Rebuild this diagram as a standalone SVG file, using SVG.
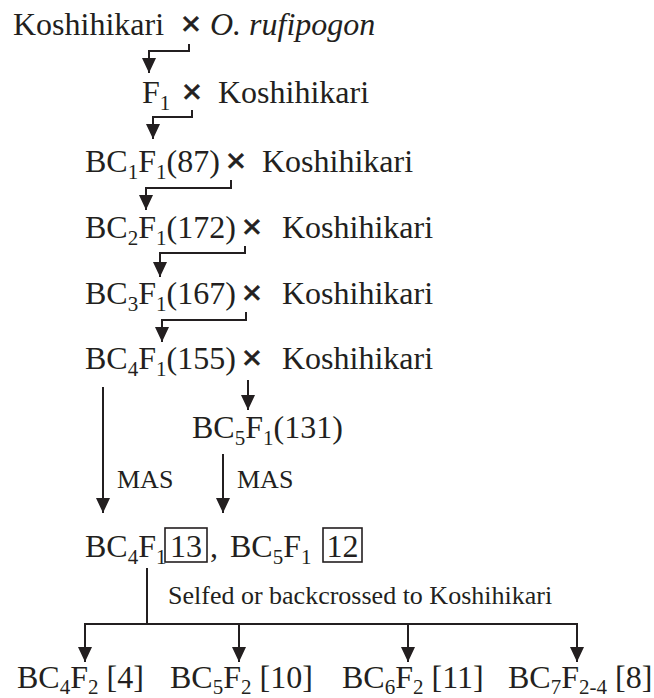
<svg xmlns="http://www.w3.org/2000/svg" width="654" height="698" viewBox="0 0 654 698">
  <style>
    .t { font-family: "Liberation Serif", "DejaVu Serif", "Noto Serif", serif; font-size: 32px; fill: #231f20; }
    .s { font-size: 21px; }
    .sm { font-family: "Liberation Serif", "DejaVu Serif", "Noto Serif", serif; font-size: 26px; fill: #231f20; }
    .x { font-family: "Liberation Sans", Arial, sans-serif; font-size: 34px; fill: #231f20; stroke: #231f20; stroke-width: 0.7; text-anchor: middle; }
    .ln { fill: none; stroke: #231f20; stroke-width: 2; }
    .arr { fill: none; stroke: #231f20; stroke-width: 2; marker-end: url(#head); }
    .box { fill: none; stroke: #231f20; stroke-width: 1.6; }
  </style>
  <defs>
    <marker id="head" markerUnits="userSpaceOnUse" markerWidth="16" markerHeight="15" refX="15" refY="7" orient="auto">
      <path d="M0,0 L15,7 L0,14 z" fill="#231f20"/>
    </marker>
  </defs>
  <rect width="654" height="698" fill="#ffffff"/>

  <!-- crossing generations -->
  <g id="cross0">
    <text class="t" x="13" y="35">Koshihikari</text>
    <text class="x" x="191" y="35">×</text>
    <text class="t" x="210" y="35" font-style="italic">O. rufipogon</text>
  </g>
  <g id="f1">
    <text class="t" x="142" y="103">F<tspan class="s" dy="7">1</tspan></text>
    <text class="x" x="192" y="103">×</text>
    <text class="t" x="218" y="103">Koshihikari</text>
  </g>
  <g id="bc1f1">
    <text class="t" x="85" y="172">BC<tspan class="s" dy="7">1</tspan><tspan dy="-7">F</tspan><tspan class="s" dy="7">1</tspan><tspan dy="-7">(87)</tspan></text>
    <text class="x" x="236" y="172">×</text>
    <text class="t" x="262" y="172">Koshihikari</text>
  </g>
  <g id="bc2f1">
    <text class="t" x="85" y="238">BC<tspan class="s" dy="7">2</tspan><tspan dy="-7">F</tspan><tspan class="s" dy="7">1</tspan><tspan dy="-7">(172)</tspan></text>
    <text class="x" x="252" y="238">×</text>
    <text class="t" x="282" y="238">Koshihikari</text>
  </g>
  <g id="bc3f1">
    <text class="t" x="85" y="304">BC<tspan class="s" dy="7">3</tspan><tspan dy="-7">F</tspan><tspan class="s" dy="7">1</tspan><tspan dy="-7">(167)</tspan></text>
    <text class="x" x="252" y="304">×</text>
    <text class="t" x="282" y="304">Koshihikari</text>
  </g>
  <g id="bc4f1">
    <text class="t" x="85" y="369">BC<tspan class="s" dy="7">4</tspan><tspan dy="-7">F</tspan><tspan class="s" dy="7">1</tspan><tspan dy="-7">(155)</tspan></text>
    <text class="x" x="252" y="369">×</text>
    <text class="t" x="282" y="369">Koshihikari</text>
  </g>
  <g id="bc5f1">
    <text class="t" x="192" y="438">BC<tspan class="s" dy="7">5</tspan><tspan dy="-7">F</tspan><tspan class="s" dy="7">1</tspan><tspan dy="-7">(131)</tspan></text>
  </g>

  <!-- selected lines -->
  <g id="selected">
    <text class="t" x="85" y="557">BC<tspan class="s" dy="7">4</tspan><tspan dy="-7">F</tspan><tspan class="s" dy="7">1</tspan></text>
    <rect class="box" x="165" y="528" width="42" height="34"/>
    <text class="t" x="186" y="557" text-anchor="middle">13</text>
    <text class="t" x="210" y="557">,</text>
    <text class="t" x="230" y="557">BC<tspan class="s" dy="7">5</tspan><tspan dy="-7">F</tspan><tspan class="s" dy="7">1</tspan></text>
    <rect class="box" x="323" y="528" width="39" height="34"/>
    <text class="t" x="342.5" y="557" text-anchor="middle">12</text>
  </g>

  <!-- final progeny -->
  <g id="bc4f2">
    <text class="t" x="17" y="688">BC<tspan class="s" dy="6">4</tspan><tspan dy="-6">F</tspan><tspan class="s" dy="6">2</tspan><tspan dy="-6"> [4]</tspan></text>
  </g>
  <g id="bc5f2">
    <text class="t" x="170" y="688">BC<tspan class="s" dy="6">5</tspan><tspan dy="-6">F</tspan><tspan class="s" dy="6">2</tspan><tspan dy="-6"> [10]</tspan></text>
  </g>
  <g id="bc6f2">
    <text class="t" x="342" y="688">BC<tspan class="s" dy="6">6</tspan><tspan dy="-6">F</tspan><tspan class="s" dy="6">2</tspan><tspan dy="-6"> [11]</tspan></text>
  </g>
  <g id="bc7f2">
    <text class="t" x="508" y="688">BC<tspan class="s" dy="6">7</tspan><tspan dy="-6">F</tspan><tspan class="s" dy="6">2-4</tspan><tspan dy="-6"> [8]</tspan></text>
  </g>

  <!-- connectors -->
  <g id="connectors">
    <path class="arr" d="M189,44 V51 H149 V73"/>
    <path class="arr" d="M192,110 V117 H153 V139"/>
    <path class="arr" d="M231,180 V188 H146 V210"/>
    <path class="arr" d="M245,246 V253 H160 V277"/>
    <path class="arr" d="M246,312 V320 H162 V342"/>
    <path class="arr" d="M248,380 V410"/>
    <path class="arr" d="M103,387 V513"/>
    <path class="arr" d="M223,454 V513"/>
    <text class="sm" x="117" y="488">MAS</text>
    <text class="sm" x="237" y="488">MAS</text>
    <path class="ln" d="M147,568 V624"/>
    <text class="sm" x="168" y="604">Selfed or backcrossed to Koshihikari</text>
    <path class="ln" d="M85,624 H577"/>
    <path class="arr" d="M85,623 V662"/>
    <path class="arr" d="M239,623 V662"/>
    <path class="arr" d="M408,623 V662"/>
    <path class="arr" d="M577,623 V662"/>
  </g>
</svg>
